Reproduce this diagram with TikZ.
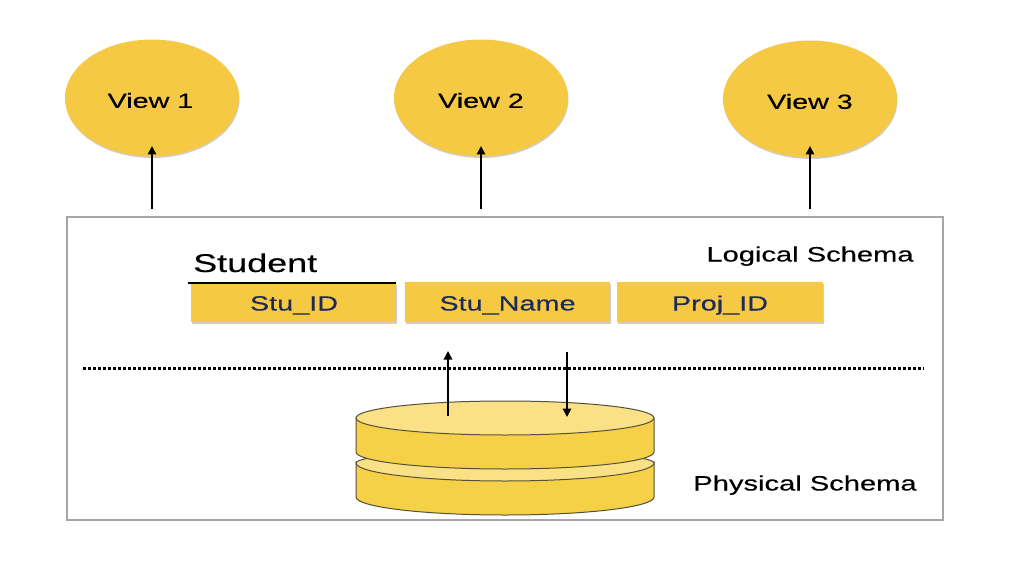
\documentclass[tikz,border=0pt]{standalone}
\usepackage{fontspec}
\setmainfont{Liberation Sans}
\newfontfamily\widefont[FakeStretch=1.4,FakeBold=0.25]{Liberation Sans}
\usetikzlibrary{shapes.geometric,arrows.meta,shadows}
\definecolor{gold}{HTML}{F6C945}
\definecolor{disk}{HTML}{F6D147}
\definecolor{disktop}{HTML}{FAE185}
\definecolor{navy}{HTML}{1C2A55}
\definecolor{frameg}{HTML}{A6A6A6}
\definecolor{edgeg}{HTML}{55503A}
\tikzset{
  x=1pt,y=-1pt,
  softshadow/.style={drop shadow={shadow xshift=0.5pt,shadow yshift=-1.5pt,fill=black!55,opacity=0.35}},
  viewnode/.style={ellipse,fill=gold,minimum width=174pt,minimum height=117pt,inner sep=0pt,softshadow},
  viewtext/.style={inner sep=0pt,font=\widefont\fontsize{20.5}{24}\selectfont},
  fieldbox/.style={rectangle,fill=gold,minimum width=205pt,minimum height=40pt,inner sep=0pt,softshadow},
  fieldtext/.style={inner sep=0pt,text=navy,font=\widefont\fontsize{20.6}{24}\selectfont},
  caption/.style={inner sep=0pt,font=\widefont\fontsize{20.8}{24}\selectfont},
  arrowline/.style={draw=black,line width=1.5pt,-{Triangle[length=8.5pt,width=8.5pt]}},
  diskside/.style={draw=edgeg,line width=1pt,fill=disk},
  disksurface/.style={draw=edgeg,line width=1pt,fill=disktop},
}
\begin{document}
\begin{tikzpicture}
\useasboundingbox (0,0) rectangle (1014,588);
\fill[white] (0,0) rectangle (1014,588);
% frame
\node[draw=frameg,line width=1.5pt,fill=white,minimum width=876pt,minimum height=303pt,inner sep=0pt] (frame) at (505,368.5) {};
% views
\node[viewnode] (v1) at (152,98) {};
\node[viewnode] (v2) at (481,98) {};
\node[viewnode] (v3) at (810,99) {};
\node[viewtext] (t1) at (150.5,100.5) {View 1};
\node[viewtext] (t2) at (481,100.5) {View 2};
\node[viewtext] (t3) at (810,101.5) {View 3};
% view arrows
\coordinate (a1s) at (152,209); \coordinate (a1e) at (152,146);
\coordinate (a2s) at (481,209); \coordinate (a2e) at (481,146);
\coordinate (a3s) at (810,209); \coordinate (a3e) at (810,146);
\draw[arrowline] (a1s) -- (a1e);
\draw[arrowline] (a2s) -- (a2e);
\draw[arrowline] (a3s) -- (a3e);
% table
\node[anchor=base west,inner sep=0pt,font=\widefont\fontsize{25.7}{30}\selectfont] (student) at (193,272) {Student};
\node[fieldbox,minimum height=39pt] (f1) at (293.5,302.5) {};
\node[fieldbox] (f2) at (507.5,302) {};
\node[fieldbox,minimum width=206pt] (f3) at (720,302) {};
\node[fieldtext,anchor=base] (l1) at (294,310.5) {Stu\_ID};
\node[fieldtext,anchor=base] (l2) at (507.5,310.5) {Stu\_Name};
\node[fieldtext,anchor=base] (l3) at (720,310.5) {Proj\_ID};
\coordinate (ruleL) at (188,282.5); \coordinate (ruleR) at (396,282.5);
\draw[black,line width=2pt] (ruleL) -- (ruleR);
\node[caption,anchor=base] (logical) at (810,261.5) {Logical Schema};
\node[caption,anchor=base] (physical) at (805,490.5) {Physical Schema};
% separator
\coordinate (sepL) at (83,368.5); \coordinate (sepR) at (924,368.5);
\draw[black,line width=2.2pt,dash pattern=on 2.6pt off 2.4pt] (sepL) -- (sepR);
% cylinder
\draw[diskside] (356,462) -- (356,497) arc[start angle=180,end angle=360,x radius=149pt,y radius=18pt] -- (654,462) -- cycle;
\draw[disksurface] (356,463) arc[start angle=180,end angle=360,x radius=149pt,y radius=18pt] arc[start angle=0,end angle=180,x radius=149pt,y radius=12pt];
\draw[diskside] (356,418) -- (356,452) arc[start angle=180,end angle=360,x radius=149pt,y radius=17pt] -- (654,418) -- cycle;
\node[ellipse,disksurface,minimum width=298pt,minimum height=34pt,inner sep=0pt] (disk) at (505,418) {};
% disk arrows
\coordinate (upS) at (448,416); \coordinate (upE) at (448,351);
\coordinate (dnS) at (567,352); \coordinate (dnE) at (567,417);
\draw[arrowline] (upS) -- (upE);
\draw[arrowline] (dnS) -- (dnE);
\end{tikzpicture}
\end{document}
